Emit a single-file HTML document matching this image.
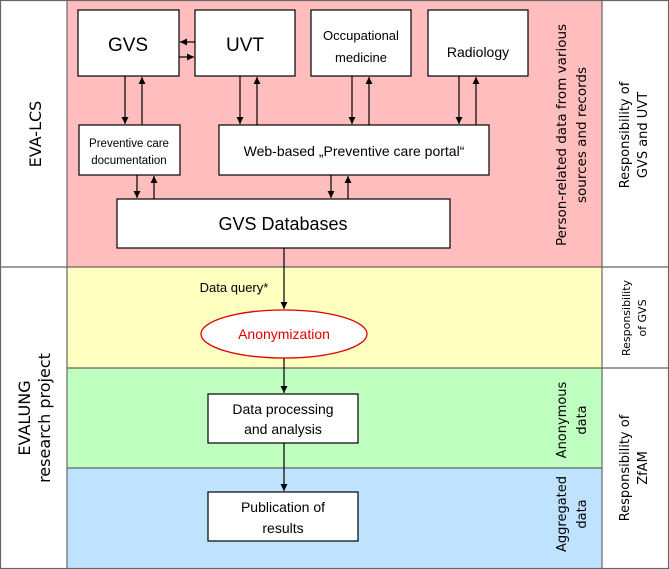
<!DOCTYPE html>
<html><head><meta charset="utf-8"><style>
html,body{margin:0;padding:0;background:#fff}
svg{display:block}
text{font-family:"Liberation Sans",sans-serif;fill:#000}
.v{font-family:"DejaVu Sans",sans-serif;font-size:13px}
</style></head><body>
<svg width="669" height="569" viewBox="0 0 669 569" xmlns="http://www.w3.org/2000/svg">
<defs><marker id="a" markerWidth="8" markerHeight="8" refX="7" refY="4" orient="auto" markerUnits="userSpaceOnUse"><path d="M0,0.5 L7,4 L0,7.5 z" fill="#000"/></marker></defs>
<rect x="67" y="0" width="535" height="267" fill="#ffbdbd"/>
<rect x="67" y="267" width="535" height="101" fill="#ffffc0"/>
<rect x="67" y="368" width="535" height="100" fill="#bfffbf"/>
<rect x="67" y="468" width="535" height="101" fill="#bfe3ff"/>
<g stroke="#666" stroke-width="1.2" fill="none">
<rect x="0.5" y="0.5" width="668" height="568"/>
<line x1="67" y1="0" x2="67" y2="569"/><line x1="602" y1="0" x2="602" y2="569"/>
<line x1="0" y1="267" x2="669" y2="267"/><line x1="67" y1="368" x2="669" y2="368"/>
<line x1="67" y1="468" x2="602" y2="468"/>
</g>
<g fill="#fff" stroke="#000" stroke-width="1.2">
<rect x="78" y="10" width="101" height="66"/><rect x="195" y="10" width="100" height="66"/>
<rect x="311" y="10" width="100" height="66"/><rect x="428" y="10" width="100" height="66"/>
<rect x="79" y="125" width="101" height="50"/><rect x="219" y="125" width="270" height="50"/>
<rect x="117" y="199" width="333" height="49"/>
<rect x="208" y="394" width="150" height="49"/><rect x="208" y="492" width="150" height="49"/>
</g>
<ellipse cx="284" cy="334" rx="83" ry="24" fill="#fff" stroke="#e00000" stroke-width="1.3"/>
<g stroke="#000" stroke-width="1.2" marker-end="url(#a)">
<line x1="195" y1="42" x2="180" y2="42"/><line x1="179" y1="57" x2="194" y2="57"/>
<line x1="125" y1="76" x2="125" y2="124"/><line x1="142" y1="125" x2="142" y2="77"/>
<line x1="240" y1="76" x2="240" y2="124"/><line x1="257" y1="125" x2="257" y2="77"/>
<line x1="352" y1="76" x2="352" y2="124"/><line x1="369" y1="125" x2="369" y2="77"/>
<line x1="459" y1="76" x2="459" y2="124"/><line x1="476" y1="125" x2="476" y2="77"/>
<line x1="137" y1="175" x2="137" y2="198"/><line x1="154" y1="199" x2="154" y2="176"/>
<line x1="331" y1="175" x2="331" y2="198"/><line x1="348" y1="199" x2="348" y2="176"/>
<line x1="284" y1="248" x2="284" y2="309"/>
<line x1="284" y1="358" x2="284" y2="393"/>
<line x1="284" y1="443" x2="284" y2="491"/>
</g>
<g text-anchor="middle">
<text x="128" y="51" font-size="19">GVS</text>
<text x="245" y="51" font-size="19">UVT</text>
<text x="361" y="40" font-size="13">Occupational</text>
<text x="361" y="62" font-size="13">medicine</text>
<text x="478" y="57" font-size="14">Radiology</text>
<text x="129" y="147" font-size="11.5">Preventive care</text>
<text x="129" y="164" font-size="11.5">documentation</text>
<text x="354" y="156" font-size="14">Web-based „Preventive care portal“</text>
<text x="283" y="230" font-size="18">GVS Databases</text>
<text x="234" y="292" font-size="13">Data query*</text>
<text x="284" y="339" font-size="14" style="fill:#e00000">Anonymization</text>
<text x="283" y="414" font-size="14">Data processing</text>
<text x="283" y="434" font-size="14">and analysis</text>
<text x="283" y="512" font-size="14">Publication of</text>
<text x="283" y="533" font-size="14">results</text>
</g>
<g text-anchor="middle">
<text transform="translate(41,134) rotate(-90)" class="v" style="font-size:16px">EVA-LCS</text>
<text transform="translate(30,418) rotate(-90)" class="v" style="font-size:16px">EVALUNG</text>
<text transform="translate(50,418) rotate(-90)" class="v" style="font-size:16px">research project</text>
<text transform="translate(566,135) rotate(-90)" class="v" style="font-size:13.5px">Person-related data from various</text>
<text transform="translate(586,135) rotate(-90)" class="v" style="font-size:13.5px">sources and records</text>
<text transform="translate(566,420) rotate(-90)" class="v">Anonymous</text>
<text transform="translate(586,420) rotate(-90)" class="v">data</text>
<text transform="translate(566,514) rotate(-90)" class="v">Aggregated</text>
<text transform="translate(586,514) rotate(-90)" class="v">data</text>
<text transform="translate(629,135) rotate(-90)" class="v">Responsibility of</text>
<text transform="translate(647,135) rotate(-90)" class="v">GVS and UVT</text>
<text transform="translate(630,318) rotate(-90)" class="v" style="font-size:11px">Responsibility</text>
<text transform="translate(646,318) rotate(-90)" class="v" style="font-size:11px">of GVS</text>
<text transform="translate(629,468) rotate(-90)" class="v">Responsibility of</text>
<text transform="translate(647,468) rotate(-90)" class="v">ZfAM</text>
</g>
</svg>
</body></html>
